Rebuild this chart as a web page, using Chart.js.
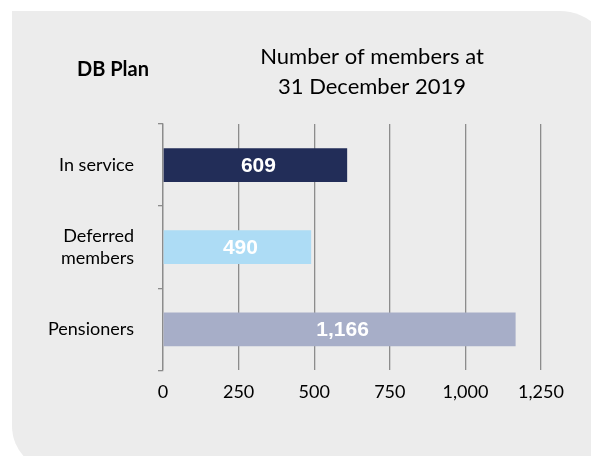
<!DOCTYPE html>
<html><head><meta charset="utf-8">
<script src="https://cdn.jsdelivr.net/npm/chart.js@4/dist/chart.umd.min.js"></script>
<style>html,body{margin:0;padding:0;background:#fff}#wrap{width:591px;height:456px;position:relative}</style>
</head><body><div id="wrap"><canvas id="c" width="591" height="456"></canvas></div>
<script>
const categories = ["In service", ["Deferred", "members"], "Pensioners"];
const members = [609, 490, 1166];
const barColors = ["#222D58", "#ADDCF5", "#A7AEC8"];
const xTicks = [0, 250, 500, 750, 1000, 1250];
const titleLeft = "DB Plan";
const titleRight = ["Number of members at", "31 December 2019"];

const panelPlugin = {
  id: 'panel',
  beforeDraw(chart) {
    const ctx = chart.ctx;
    ctx.save();
    ctx.fillStyle = '#ECECEC';
    ctx.beginPath();
    ctx.roundRect(12, 11, 600, 460, [0, 52, 0, 45]);
    ctx.fill();
    ctx.restore();
  },
  afterDraw(chart) {
    const ctx = chart.ctx;
    ctx.save();
    ctx.fillStyle = '#000';
    ctx.textAlign = 'center';
    ctx.textBaseline = 'middle';
    ctx.font = 'bold 20px Lato, "Liberation Sans", sans-serif';
    ctx.fillText(titleLeft, 113, 70);
    ctx.font = '22px Lato, "Liberation Sans", sans-serif';
    ctx.fillText(titleRight[0], 372, 57);
    ctx.fillText(titleRight[1], 372, 87);
    // data labels
    const meta = chart.getDatasetMeta(0);
    ctx.fillStyle = '#fff';
    ctx.font = 'bold 21px "Liberation Sans", Arial, sans-serif';
    meta.data.forEach((bar, i) => {
      const v = chart.data.datasets[0].data[i];
      const cx = (bar.base + bar.x) / 2;
      ctx.fillText(v.toLocaleString('en-US'), cx + 3, bar.y + 1);
    });
    ctx.restore();
  }
};

new Chart(document.getElementById('c'), {
  type: 'bar',
  data: {
    labels: categories,
    datasets: [{
      data: members,
      backgroundColor: barColors,
      borderWidth: 0,
      barPercentage: 0.82,
      categoryPercentage: 0.5
    }]
  },
  options: {
    indexAxis: 'y',
    responsive: false,
    animation: false,
    layout: { padding: { left: 0, right: 50, top: 124, bottom: 42 } },
    plugins: { legend: { display: false }, tooltip: { enabled: false } },
    scales: {
      x: {
        min: 0, max: 1250,
        afterBuildTicks(axis) { axis.ticks = xTicks.map(v => ({ value: v })); },
        grid: { color: '#8C8C8C', lineWidth: 1.3, drawTicks: false },
        border: { display: false },
        ticks: {
          padding: 11,
          color: '#000',
          font: { family: 'Lato, "Liberation Sans", sans-serif', size: 18 },
          callback: v => v.toLocaleString('en-US')
        }
      },
      y: {
        afterFit(axis) { axis.width = 163; },
        grid: { drawOnChartArea: false, offset: true, tickLength: 5, color: '#8C8C8C', lineWidth: 1.3 },
        border: { display: true, color: '#8C8C8C', width: 1.3 },
        ticks: {
          padding: 24,
          color: '#000',
          font: { family: 'Lato, "Liberation Sans", sans-serif', size: 18, lineHeight: 1.2 }
        }
      }
    }
  },
  plugins: [panelPlugin]
});
</script>
</body></html>
